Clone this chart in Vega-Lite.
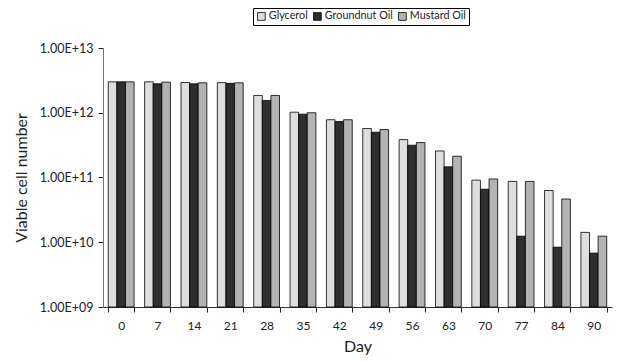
{
  "$schema": "https://vega.github.io/schema/vega-lite/v6.json",
  "width": 509,
  "height": 259,
  "autosize": {"type": "none"},
  "padding": {"left": 103, "top": 48, "right": 18, "bottom": 54},
  "background": "white",
  "config": {
    "font": "Lato",
    "view": {"stroke": null},
    "axis": {"labelFont": "Lato", "titleFont": "Lato", "labelColor": "#222", "titleColor": "#222", "domainColor": "#555", "tickColor": "#222", "grid": false, "titleFontWeight": "normal"}
  },
  "data": {
    "values": [
      {"day": "0", "series": "Glycerol", "v": 3.0e12},
      {"day": "0", "series": "Groundnut Oil", "v": 3.0e12},
      {"day": "0", "series": "Mustard Oil", "v": 3.0e12},
      {"day": "7", "series": "Glycerol", "v": 3.0e12},
      {"day": "7", "series": "Groundnut Oil", "v": 2.8e12},
      {"day": "7", "series": "Mustard Oil", "v": 2.97e12},
      {"day": "14", "series": "Glycerol", "v": 2.93e12},
      {"day": "14", "series": "Groundnut Oil", "v": 2.8e12},
      {"day": "14", "series": "Mustard Oil", "v": 2.9e12},
      {"day": "21", "series": "Glycerol", "v": 2.92e12},
      {"day": "21", "series": "Groundnut Oil", "v": 2.85e12},
      {"day": "21", "series": "Mustard Oil", "v": 2.9e12},
      {"day": "28", "series": "Glycerol", "v": 1.85e12},
      {"day": "28", "series": "Groundnut Oil", "v": 1.55e12},
      {"day": "28", "series": "Mustard Oil", "v": 1.85e12},
      {"day": "35", "series": "Glycerol", "v": 1.02e12},
      {"day": "35", "series": "Groundnut Oil", "v": 9.5e11},
      {"day": "35", "series": "Mustard Oil", "v": 1.0e12},
      {"day": "42", "series": "Glycerol", "v": 7.8e11},
      {"day": "42", "series": "Groundnut Oil", "v": 7.3e11},
      {"day": "42", "series": "Mustard Oil", "v": 7.8e11},
      {"day": "49", "series": "Glycerol", "v": 5.7e11},
      {"day": "49", "series": "Groundnut Oil", "v": 5.0e11},
      {"day": "49", "series": "Mustard Oil", "v": 5.5e11},
      {"day": "56", "series": "Glycerol", "v": 3.85e11},
      {"day": "56", "series": "Groundnut Oil", "v": 3.15e11},
      {"day": "56", "series": "Mustard Oil", "v": 3.46e11},
      {"day": "63", "series": "Glycerol", "v": 2.57e11},
      {"day": "63", "series": "Groundnut Oil", "v": 1.46e11},
      {"day": "63", "series": "Mustard Oil", "v": 2.13e11},
      {"day": "70", "series": "Glycerol", "v": 9.1e10},
      {"day": "70", "series": "Groundnut Oil", "v": 6.6e10},
      {"day": "70", "series": "Mustard Oil", "v": 9.5e10},
      {"day": "77", "series": "Glycerol", "v": 8.7e10},
      {"day": "77", "series": "Groundnut Oil", "v": 1.24e10},
      {"day": "77", "series": "Mustard Oil", "v": 8.7e10},
      {"day": "84", "series": "Glycerol", "v": 6.3e10},
      {"day": "84", "series": "Groundnut Oil", "v": 8.4e9},
      {"day": "84", "series": "Mustard Oil", "v": 4.65e10},
      {"day": "90", "series": "Glycerol", "v": 1.42e10},
      {"day": "90", "series": "Groundnut Oil", "v": 6.8e9},
      {"day": "90", "series": "Mustard Oil", "v": 1.24e10}
    ]
  },
  "mark": {"type": "bar", "stroke": "#000", "strokeWidth": 0.8},
  "encoding": {
    "x": {
      "field": "day", "type": "nominal",
      "sort": ["0","7","14","21","28","35","42","49","56","63","70","77","84","90"],
      "scale": {"paddingInner": 0.29, "paddingOuter": 0.145},
      "axis": {"title": "Day", "titleFontSize": 16, "titlePadding": 7, "labelAngle": 0, "labelFontSize": 12, "labelPadding": 8, "tickSize": 5, "tickBand": "extent", "domainColor": "#333"}
    },
    "xOffset": {"field": "series", "type": "nominal", "sort": ["Glycerol", "Groundnut Oil", "Mustard Oil"], "scale": {"paddingInner": 0, "paddingOuter": 0}},
    "y": {
      "field": "v", "type": "quantitative",
      "scale": {"type": "log", "domain": [1e9, 1e13], "nice": false},
      "axis": {"title": "Viable cell number", "titleFontSize": 16, "titlePadding": 10, "values": [1e9, 1e10, 1e11, 1e12, 1e13], "labelExpr": "'1.00E+' + (datum.value < 1e10 ? '09' : format(round(log(datum.value)/LN10), 'd'))", "labelFontSize": 12.5, "labelPadding": 5, "tickSize": 5, "domainColor": "#777"}
    },
    "y2": {"datum": 1e9},
    "fill": {
      "field": "series", "type": "nominal",
      "scale": {"domain": ["Glycerol", "Groundnut Oil", "Mustard Oil"], "range": ["#dedede", "#2e2e2e", "#b3b3b3"]},
      "legend": {"title": null, "orient": "none", "legendX": 150, "legendY": -40, "direction": "horizontal", "strokeColor": "#000", "padding": 3, "symbolType": "square", "symbolSize": 60, "symbolStrokeColor": "#000", "symbolStrokeWidth": 0.8, "labelFontSize": 10.8, "labelFont": "Lato", "labelColor": "#222", "columnPadding": 3, "labelOffset": 2}
    }
  }
}
